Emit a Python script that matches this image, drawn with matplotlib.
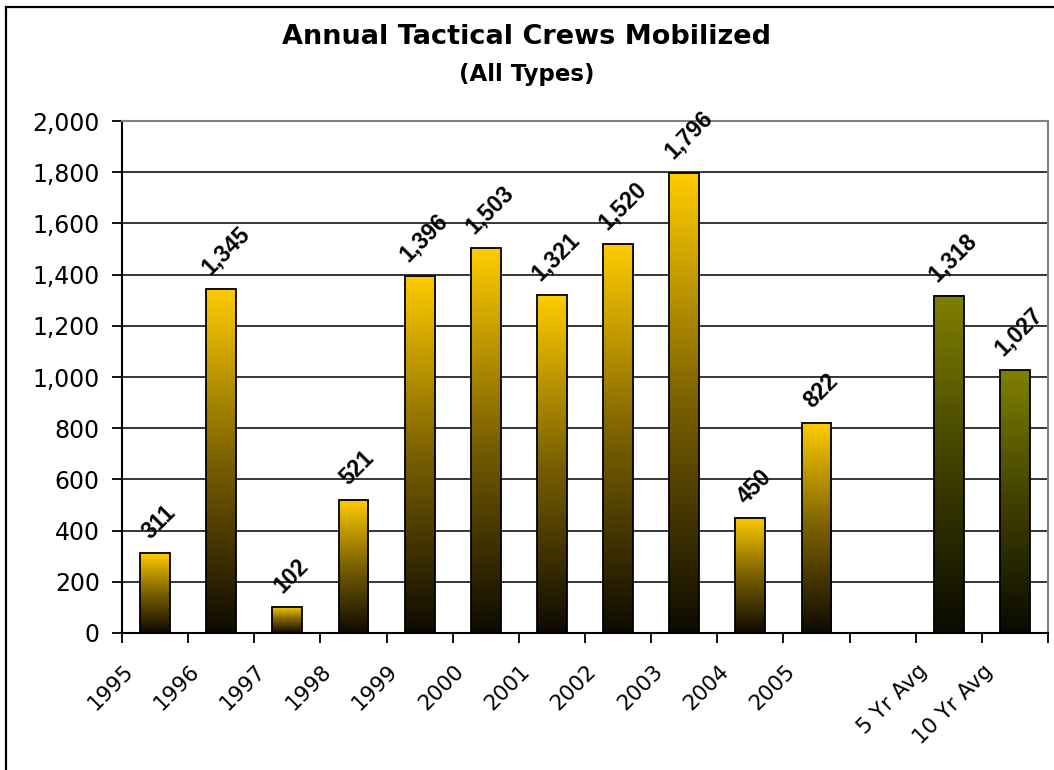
import numpy as np
import matplotlib
matplotlib.use("Agg")
from matplotlib import pyplot as plt
from matplotlib.colors import LinearSegmentedColormap
from matplotlib.patches import Rectangle

plt.rcParams['font.family'] = ['DejaVu Sans']

# datos
categorias = ['1995', '1996', '1997', '1998', '1999', '2000', '2001',
              '2002', '2003', '2004', '2005', '', '5 Yr Avg', '10 Yr Avg']
anual = [311, 1345, 102, 521, 1396, 1503, 1321, 1520, 1796, 450, 822]
promedios = [1318, 1027]
pos_promedios = [12, 13]

cmap_anual = LinearSegmentedColormap.from_list('anual', ['#0d0a00', '#7a6000', '#ffcc00'])
cmap_prom = LinearSegmentedColormap.from_list('prom', ['#0a0a00', '#404000', '#808000'])

fig = plt.figure(figsize=(10.54, 7.7), dpi=100)
ax = fig.add_axes([122/1054, 1 - 633/770, (1048 - 122)/1054, (633 - 121)/770])

ancho = 0.45
grad = np.linspace(0, 1, 256).reshape(-1, 1)


def barra(x, v, cmap):
    ax.imshow(grad, extent=[x - ancho/2, x + ancho/2, 0, v], origin='lower',
              aspect='auto', cmap=cmap, zorder=2, interpolation='bilinear')
    ax.add_patch(Rectangle((x - ancho/2, 0), ancho, v, fill=False,
                           edgecolor='black', linewidth=1.3, zorder=3))
    ax.annotate(f'{v:,}', (x, v), xytext=(3, 7), textcoords='offset points',
                ha='center', va='bottom', rotation=45, fontsize=16.5,
                fontweight='bold', family='Liberation Sans', zorder=4)


for i, v in enumerate(anual):
    barra(i, v, cmap_anual)
for x, v in zip(pos_promedios, promedios):
    barra(x, v, cmap_prom)

ax.set_xlim(-0.5, len(categorias) - 0.5)
ax.set_ylim(0, 2000)
ax.set_yticks(range(0, 2001, 200))
ax.set_yticklabels([f'{t:,}' for t in range(0, 2001, 200)])
ax.yaxis.grid(True, color='black', linewidth=1.1, zorder=0)
ax.set_axisbelow(True)

# marcas en los bordes de cada categoria, etiquetas algo a la derecha
ax.set_xticks(np.arange(len(categorias) + 1) - 0.5, minor=True)
ax.set_xticks(np.arange(len(categorias)) - 0.27)
ax.set_xticklabels(categorias, rotation=45, ha='right', va='top')

ax.tick_params(axis='x', which='major', labelsize=15.5, length=0, pad=20)
ax.tick_params(axis='x', which='minor', length=7, width=1.3, direction='out')
ax.tick_params(axis='y', labelsize=17, length=7, width=1.3, pad=9, direction='out')

for lado in ['left', 'bottom']:
    ax.spines[lado].set_color('black')
    ax.spines[lado].set_linewidth(1.5)
for lado in ['top', 'right']:
    ax.spines[lado].set_color('#808080')
    ax.spines[lado].set_linewidth(1.5)

fig.text(0.5, 1 - 37/770, 'Annual Tactical Crews Mobilized', ha='center', va='center',
         fontsize=19.5, fontweight='bold')
fig.text(0.5, 1 - 75/770, '(All Types)', ha='center', va='center',
         fontsize=16.5, fontweight='bold')

# marco del grafico
fig.patches.append(Rectangle((6/1054, -0.1), 1.2, 1.1 - 7/770, transform=fig.transFigure,
                             fill=False, edgecolor='black', linewidth=1.6))

fig.savefig('out.png', dpi=100)
